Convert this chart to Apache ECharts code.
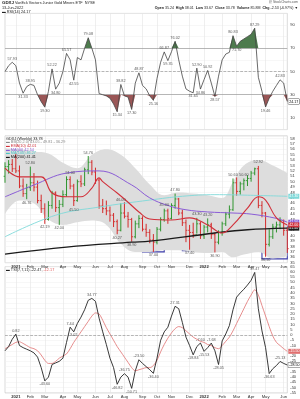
<!DOCTYPE html>
<html><head><meta charset="utf-8">
<script src="https://cdn.jsdelivr.net/npm/echarts@6/dist/echarts.min.js"></script>
<style>html,body{margin:0;padding:0;background:#fff}#c{width:300px;height:399px}</style>
</head><body><div id="c"></div><script>
const F = "'Liberation Sans', Arial, sans-serif";
const dates = ['2020-12-14','2020-12-21','2020-12-28','2021-01-04','2021-01-11','2021-01-18','2021-01-25','2021-02-01','2021-02-08','2021-02-15','2021-02-22','2021-03-01','2021-03-08','2021-03-15','2021-03-22','2021-03-29','2021-04-05','2021-04-12','2021-04-19','2021-04-26','2021-05-03','2021-05-10','2021-05-17','2021-05-24','2021-05-31','2021-06-07','2021-06-14','2021-06-21','2021-06-28','2021-07-05','2021-07-12','2021-07-19','2021-07-26','2021-08-02','2021-08-09','2021-08-16','2021-08-23','2021-08-30','2021-09-06','2021-09-13','2021-09-20','2021-09-27','2021-10-04','2021-10-11','2021-10-18','2021-10-25','2021-11-01','2021-11-08','2021-11-15','2021-11-22','2021-11-29','2021-12-06','2021-12-13','2021-12-20','2021-12-27','2022-01-03','2022-01-10','2022-01-17','2022-01-24','2022-01-31','2022-02-07','2022-02-14','2022-02-21','2022-02-28','2022-03-07','2022-03-14','2022-03-21','2022-03-28','2022-04-04','2022-04-11','2022-04-18','2022-04-25','2022-05-02','2022-05-09','2022-05-16','2022-05-23','2022-05-30','2022-06-06','2022-06-13'];
const monthNames = ['Jan','Feb','Mar','Apr','May','Jun','Jul','Aug','Sep','Oct','Nov','Dec'];

// RSI panel
const rsi = [50,55,57.93,55,40,31.33,37,38.95,38,30, 24,19.3,33,52.22,34.8,40,50,65.57,60,42.55, 62,60,70,79.08,70,60,31,30,29,27, 22,15.34,38.82,29,28,17.3,40,48.87,38,35, 29,25.16,44,58,66.87,59.35,67,76.02,60,46, 35,33,31.65,52.9,34.86,43,50.92,40,28.57,46, 60,65,66.5,80.83,71.7,76,78,80,82,87.29, 45,33,19.46,27,33,38,42.83,40,24.17];
const rsiTopIdx = [2,7,13,17,23,32,37,44,47,53,56,63,69,76];
const rsiBotIdx = [5,11,14,19,31,35,41,45,52,54,58,64,72];

// Price panel (weekly OHLC)
const open  = [51.0,52.8,53.2,52.4,52.0,49.2,47.8,48.9,49.8,49.0, 46.5,45.0,43.0,45.6,47.9,45.2,45.8,47.6,50.4,49.2, 46.5,50.0,49.6,52.2,53.6,51.8,50.3,45.5,45.0,44.6, 43.8,42.6,41.0,44.2,43.6,43.0,39.8,42.2,43.2,41.2, 40.6,39.2,38.8,41.2,43.0,44.6,43.2,45.6,46.8,44.2, 42.4,41.0,40.6,40.2,42.2,40.0,41.6,42.0,40.2,38.8, 40.6,42.2,44.0,44.8,49.8,48.2,49.6,50.2,50.6,51.6, 52.4,45.6,44.2,38.4,39.8,41.6,42.0,42.8,41.0];
const high  = [53.6,54.0,54.2,55.2,53.0,50.6,49.6,52.8,51.6,50.2, 47.6,46.0,46.4,48.3,48.2,46.6,48.4,51.0,51.0,49.6, 50.4,51.2,52.6,54.76,54.0,52.6,50.6,46.8,46.5,45.4, 44.2,43.0,46.0,46.2,44.4,43.3,42.8,43.8,43.6,42.2, 41.2,40.3,41.6,43.4,45.0,45.0,46.0,47.8,47.0,44.8, 43.0,42.0,42.4,43.3,42.6,42.0,43.2,42.4,40.6,41.0, 42.6,44.4,45.6,50.6,50.8,50.0,50.6,51.2,52.0,52.6, 52.92,46.4,44.4,41.2,42.2,42.6,43.4,43.0,41.6];
const low   = [49.8,51.5,51.8,51.6,48.8,47.2,46.76,48.3,48.2,46.0, 44.2,42.19,42.8,45.0,44.4,42.0,45.3,47.2,48.6,45.5, 46.3,49.0,49.2,51.4,51.2,49.6,45.0,44.2,43.8,42.6, 41.6,40.27,40.8,43.2,41.5,38.9,39.5,41.4,40.8,39.8, 38.6,37.0,38.4,40.8,42.6,42.2,43.0,45.0,43.8,41.8, 38.8,37.4,39.6,40.4,39.4,39.4,40.6,39.4,36.9,38.4, 40.0,41.8,43.2,44.6,47.4,47.6,48.4,49.2,50.0,51.2, 45.1,43.4,36.1,38.0,39.4,40.6,41.2,40.0,36.8];
const close = [52.8,53.2,52.4,52.0,49.2,47.8,48.9,49.8,49.0,46.5, 45.0,43.0,45.6,47.9,45.2,45.8,47.6,50.4,49.2,46.5, 50.0,49.6,52.2,53.6,51.8,50.3,45.5,45.0,44.6,43.8, 42.6,41.0,44.2,43.6,43.0,39.8,42.2,43.2,41.2,40.6, 39.2,38.8,41.2,43.0,44.6,43.2,45.6,46.8,44.2,42.4, 41.0,40.6,40.2,42.2,40.0,41.6,42.0,40.2,38.8,40.6, 42.2,44.0,44.8,49.8,48.2,49.6,50.2,50.6,51.6,52.4, 45.6,44.2,38.4,39.8,41.6,42.0,42.8,41.0,37.6];
const priceHiIdx = [7,18,23,32,44,47,53,56,63,66,70];
const priceLoIdx = [6,11,15,19,31,35,41,51,58,72];
const ema10  = [[0,52.5],[4,50.9],[10,50.9],[13,47.9],[17,47.2],[21,47.2],[24,48.8],[26,50.7],[27,50.0],[31,47.9],[34,46.2],[37,44.4],[40,43.1],[46,42.9],[51,43.3],[56,42.0],[60,40.5],[63,42.0],[67,45.1],[70,47.2],[72,46.6],[75,43.3],[78,42.0]];
const sma40  = [[0,47.2],[8,49.4],[17,51.6],[26,52.0],[35,49.4],[40,47.0],[45,45.6],[50,44.8],[56,44.4],[63,44.2],[68,44.0],[75,43.2],[78,42.5]];
const sma100 = [[0,39.8],[14,43.8],[26,45.3],[40,46.6],[49,47.3],[58,47.6],[67,47.5],[78,47.3]];
const sma200 = [[0,36.6],[17,37.9],[35,38.8],[40,39.0],[58,40.5],[67,41.1],[78,41.4]];
const bbUpper = [[0,56.2],[4,56.0],[8,55.6],[12,55.2],[16,53.5],[20,52.5],[24,55.0],[28,56.0],[32,55.0],[36,52.5],[40,49.5],[44,47.5],[48,48.0],[52,47.8],[56,47.5],[60,47.0],[63,50.0],[66,53.0],[70,54.0],[74,53.0],[78,51.6]];
const bbLower = [[0,44.0],[4,46.5],[8,46.0],[12,43.0],[16,42.0],[20,42.5],[24,42.8],[28,42.0],[32,38.5],[36,37.0],[40,37.0],[44,37.3],[48,37.3],[52,37.0],[56,36.8],[60,37.0],[63,36.0],[66,36.5],[70,37.0],[74,35.8],[78,36.2]];
const boxes = [[38,44,40.1,37.0],[49,63,40.5,37.2],[71,78,41.8,35.7]];

// TSI panel
const tsi = [-15,-11,-4,0.82,-10,-12,-13.5,-15,-17,-21, -31,-43.6,-40,-28,-26.5,-25,-22,-7,7.44,3.02, 11,17,24,33,34.77,32,16,3,-9,-22, -31,-46.82,-40,-36.75,-40,-50.71,-34,-23.5,-27,-30, -33,-36.4,-22,-5,3,7.4,18,27.31,25,12, -2,-10,-18.84,-11,-7.6,-15.53,-12,-7.68,-15,-28.05, -5.6,1,9,24,36,40,43.5,47.5,52,59.47, 25,4,-12,-36.63,-32,-29,-25.13,-27,-28.5];
const tsiSignal = [-13,-11,-9,-7,-6.5,-8,-10,-12,-13,-15, -19,-24,-27,-27,-25,-22,-20,-18,-13,-7, -2,3,8,13,18,21,20,14,7,1, -5,-11,-16,-21,-26,-31,-34,-33,-32,-31, -31,-29,-24,-16,-9,-3,2,6,8,7, 4,1,-2,-4,-6,-7,-9,-10,-12,-13, -10,-6,-2,4,11,18,25,32,38,43, 38,28,18,8,-1,-7,-10,-13,-15.5];
const tsiTopIdx = [3,18,24,33,37,47,54,57,69,76];
const tsiBotIdx = [11,19,31,35,41,52,55,59,73];

function isMonthStart(i){ return i>0 && dates[i].slice(5,7)!==dates[i-1].slice(5,7); }
function monthLabel(v){ const m=+v.slice(5,7); return m===1 ? '{b|'+v.slice(0,4)+'}' : monthNames[m-1]; }

const GL = 5, GR = 12.7;
const grids = [
  {left:GL, right:GR, top:13.4, height:116.2},
  {left:GL, right:GR, top:135.8, height:126.9},
  {left:GL, right:GR, top:266.6, height:126.3}
].map(g=>Object.assign(g,{show:true,borderColor:'#b5b5b5',borderWidth:0.5}));

function xAx(gi, showLabel){
  return {type:'category', gridIndex:gi, data:dates, boundaryGap:false,
    axisLine:{show:false}, axisTick:{show:false},
    axisLabel:{show:showLabel, interval:(i)=>isMonthStart(i), formatter:monthLabel, fontSize:4.2, color:'#333', margin:2, fontFamily:F, rich:{b:{fontWeight:'bold',fontSize:4.2}}},
    splitLine:{show:true, interval:(i)=>isMonthStart(i), lineStyle:{color:'#e4e4e4', width:0.6}}};
}
function yAx(gi, min, max, interval, fmt){
  return {type:'value', gridIndex:gi, position:'right', min, max, interval, scale:true,
    axisLine:{show:false}, axisTick:{show:false},
    axisLabel:{fontSize:4, color:'#333', margin:3, fontFamily:F, formatter:fmt},
    splitLine:{show:true, lineStyle:{color:'#eeeeee', width:0.5}}};
}

const labelStyle = {fontSize:3.8, color:'#333', fontFamily:F, distance:1};
function pointLabels(arr, idxs, pos, xi, yi){
  return {type:'scatter', xAxisIndex:xi, yAxisIndex:yi, symbolSize:1, itemStyle:{color:'rgba(0,0,0,0)'}, silent:true, z:6,
    data: idxs.map(i=>[i, arr[i]]),
    label:Object.assign({show:true, position:pos, formatter:p=>p.value[1].toFixed(2)}, labelStyle)};
}
function maLine(data, color, width, tag){
  return {type:'line', xAxisIndex:1, yAxisIndex:1, data, smooth:0.4, showSymbol:false, silent:true, z:4,
    lineStyle:{color, width},
    endLabel:{show:tag, formatter:p=>p.value[1].toFixed(2), fontSize:3.6, color:'#fff', backgroundColor:color, padding:[0.5,1], distance:1, fontFamily:F}};
}

const series = [
  // RSI fills
  {type:'line', xAxisIndex:0, yAxisIndex:0, stack:'hi', data:rsi.map(()=>70), showSymbol:false, lineStyle:{opacity:0}, silent:true},
  {type:'line', xAxisIndex:0, yAxisIndex:0, stack:'hi', data:rsi.map(v=>Math.max(v-70,0)), showSymbol:false, lineStyle:{opacity:0}, areaStyle:{color:'#4d7b4d',opacity:1}, silent:true},
  {type:'line', xAxisIndex:0, yAxisIndex:0, stack:'lo', data:rsi.map(v=>Math.min(v,30)), showSymbol:false, lineStyle:{opacity:0}, silent:true},
  {type:'line', xAxisIndex:0, yAxisIndex:0, stack:'lo', data:rsi.map(v=>30-Math.min(v,30)), showSymbol:false, lineStyle:{opacity:0}, areaStyle:{color:'#9a5656',opacity:1}, silent:true},
  {type:'line', xAxisIndex:0, yAxisIndex:0, data:rsi, showSymbol:false, lineStyle:{color:'#444', width:0.8}, z:5, silent:true,
    endLabel:{show:true, formatter:p=>(+p.value).toFixed(2), fontSize:3.6, color:'#000', backgroundColor:'#fff', borderColor:'#555', borderWidth:0.5, padding:[0.5,1], distance:1, fontFamily:F},
    markLine:{silent:true, symbol:'none', label:{show:false}, lineStyle:{color:'#9a9a9a', width:0.7, type:'solid'},
      data:[{yAxis:70},{yAxis:30},{yAxis:50, lineStyle:{type:'dashed', color:'#9a9a9a'}}]}},
  pointLabels(rsi, rsiTopIdx, 'top', 0, 0),
  pointLabels(rsi, rsiBotIdx, 'bottom', 0, 0),

  // Price: Bollinger band
  {type:'line', xAxisIndex:1, yAxisIndex:1, stack:'bb', data:bbLower, smooth:0.4, showSymbol:false, lineStyle:{opacity:0}, silent:true, z:1},
  {type:'line', xAxisIndex:1, yAxisIndex:1, stack:'bb', data:bbUpper.map((p,k)=>[p[0], p[1]-bbLower[k][1]]), smooth:0.4, showSymbol:false, lineStyle:{opacity:0}, areaStyle:{color:'#dddddd',opacity:1}, silent:true, z:1},
  // OHLC bars
  {type:'custom', xAxisIndex:1, yAxisIndex:1, z:3, silent:true,
    data: dates.map((d,i)=>[i, open[i], high[i], low[i], close[i]]),
    encode:{x:0, y:[1,2,3,4]},
    renderItem(params, api){
      const x=api.value(0), o=api.value(1), h=api.value(2), l=api.value(3), c=api.value(4);
      const pH=api.coord([x,h]), pL=api.coord([x,l]), pO=api.coord([x,o]), pC=api.coord([x,c]);
      const col = c>=o ? '#2f952f' : '#d42b2b', w=1.4;
      return {type:'group', children:[
        {type:'line', shape:{x1:pH[0],y1:pH[1],x2:pL[0],y2:pL[1]}, style:{stroke:col, lineWidth:1}},
        {type:'line', shape:{x1:pO[0]-w,y1:pO[1],x2:pO[0],y2:pO[1]}, style:{stroke:col, lineWidth:0.9}},
        {type:'line', shape:{x1:pC[0],y1:pC[1],x2:pC[0]+w,y2:pC[1]}, style:{stroke:col, lineWidth:0.9}}]};
    }},
  maLine(sma100, '#7fd9d9', 0.9, true),
  maLine(sma40, '#8a5cd6', 1, true),
  Object.assign(maLine(sma200, '#1a1a1a', 1.3, true), {markArea:{silent:true, itemStyle:{color:'rgba(0,0,0,0)', borderColor:'#3c3caa', borderWidth:1.1},
    data: boxes.map(b=>[{xAxis:b[0], yAxis:b[2]},{xAxis:b[1], yAxis:b[3]}])}}),
  maLine(ema10, '#d1303a', 1.1, true),
  pointLabels(high, priceHiIdx, 'top', 1, 1),
  pointLabels(low, priceLoIdx, 'bottom', 1, 1),

  // TSI
  {type:'line', xAxisIndex:2, yAxisIndex:2, data:tsiSignal, showSymbol:false, smooth:0.3, lineStyle:{color:'#e07070', width:0.8}, silent:true, z:4,
    endLabel:{show:true, formatter:p=>(+p.value).toFixed(2), fontSize:3.6, color:'#fff', backgroundColor:'#e07070', padding:[0.5,1], distance:1, fontFamily:F}},
  {type:'line', xAxisIndex:2, yAxisIndex:2, data:tsi, showSymbol:false, lineStyle:{color:'#222', width:0.9}, silent:true, z:5,
    endLabel:{show:true, formatter:p=>(+p.value).toFixed(2), fontSize:3.6, color:'#000', backgroundColor:'#fff', borderColor:'#555', borderWidth:0.5, padding:[0.5,1], distance:1, fontFamily:F},
    markLine:{silent:true, symbol:'none', label:{show:false}, lineStyle:{color:'#999', width:0.7, type:'dashed'}, data:[{yAxis:0}]}},
  pointLabels(tsi, tsiTopIdx, 'top', 2, 2),
  pointLabels(tsi, tsiBotIdx, 'bottom', 2, 2)
];

const T = (x,y,text,opts={}) => ({type:'text', x, y, silent:true, z:100, style:Object.assign({text, fontSize:3.8, fontFamily:F, fill:'#222', textVerticalAlign:'middle'}, opts)});
const graphic = [
  T(2,3,'{b|GDXJ} VanEck Vectors Junior Gold Miners ETF  NYSE', {rich:{b:{fontWeight:'bold',fontSize:4.4,fontFamily:F}}}),
  T(2,7.5,'13-Jun-2022'),
  T(2,11.5,'\u25AC RSI(14) 24.17'),
  T(298,2.5,'@ StockCharts.com', {textAlign:'right', fontSize:3.3, fill:'#555'}),
  T(298,8,'{b|Open} 35.24  {b|High} 38.01  {b|Low} 33.67  {b|Close} 33.78  {b|Volume} 85.8M  {b|Chg} -2.53 (-6.97%) \u25BC', {textAlign:'right', fontSize:3.6, rich:{b:{fontWeight:'bold',fontSize:3.6,fontFamily:F}}}),
  T(6,138.5,'GDXJ (Weekly) 33.78'),
  T(6,142.2,'\u25AC BB(20,2.0) 43.05 - 49.81 - 36.29', {fill:'#888'}),
  T(6,145.9,'\u25AC EMA(10) 42.01', {fill:'#d1303a'}),
  T(6,149.6,'\u25AC MA(40) 42.54', {fill:'#8a5cd6'}),
  T(6,153.3,'\u25AC MA(100) 46.27', {fill:'#4cc4c4'}),
  T(6,157,'\u25AC MA(200) 41.41', {fill:'#111'}),
  T(6,270,'\u25AC TSI(7,7,11) -22.47, {r|-12.17}', {rich:{r:{fill:'#e06060',fontSize:3.8,fontFamily:F}}})
];

const chart = echarts.init(document.getElementById('c'), null, {renderer:'canvas'});
chart.setOption({
  animation:false, backgroundColor:'#fff', textStyle:{fontFamily:F},
  grid:grids,
  xAxis:[xAx(0,false), xAx(1,true), xAx(2,true)],
  yAxis:[
    yAx(0,0,100,10, v=>(v%20===10? v : '')),
    yAx(1,35,58.5,1),
    yAx(2,-55,65,5)
  ],
  series, graphic
});
</script></body></html>
